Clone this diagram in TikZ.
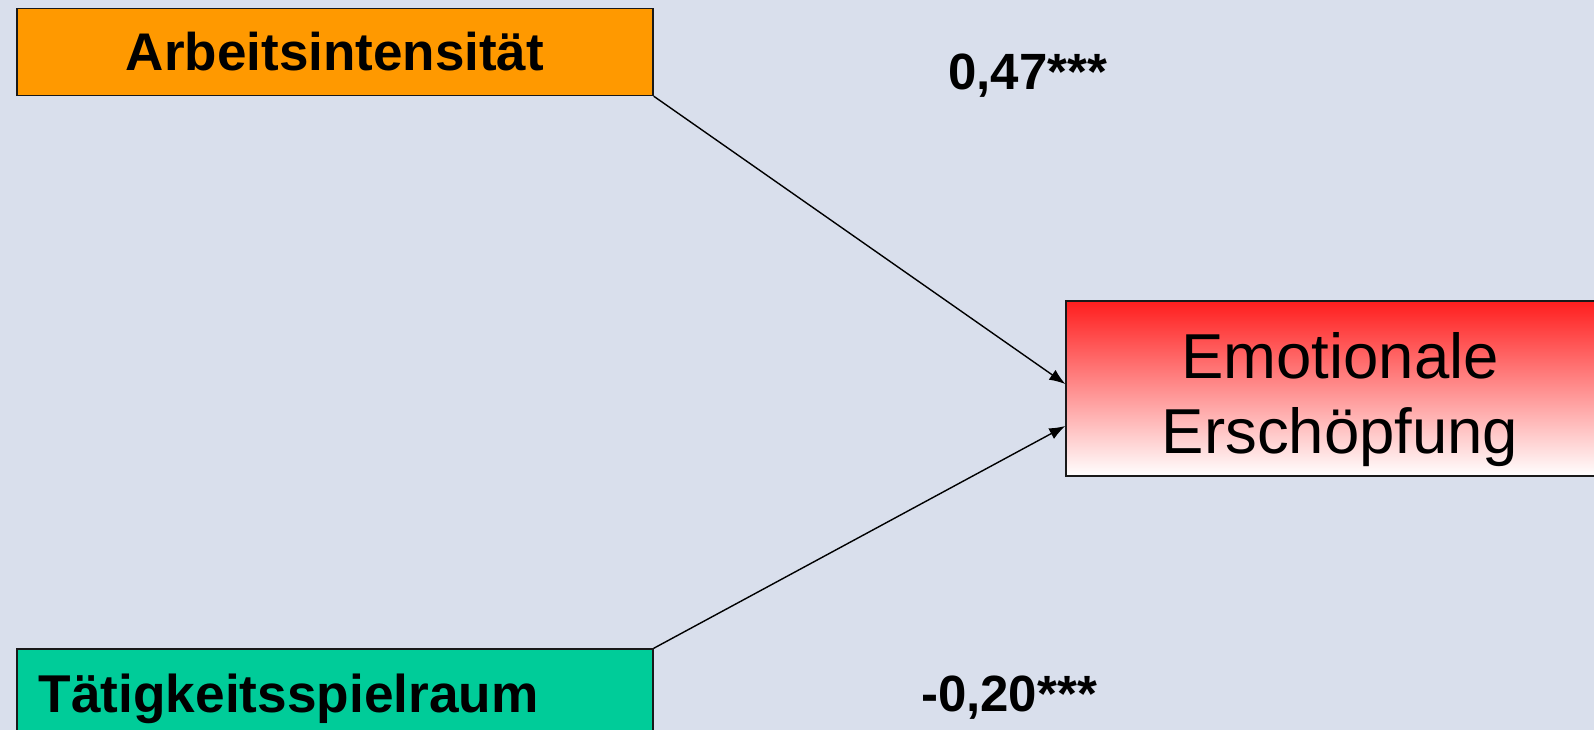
\documentclass[tikz,border=0pt]{standalone}
\usepackage{fontspec}
\setmainfont{Liberation Sans}
\usetikzlibrary{arrows.meta}
\definecolor{bgblue}{RGB}{217,223,236}
\definecolor{boxorange}{RGB}{255,153,0}
\definecolor{boxgreen}{RGB}{0,204,153}
\definecolor{boxred}{RGB}{255,30,30}
\definecolor{edge}{RGB}{25,25,25}
\tikzset{
  varbox/.style={draw=edge, line width=1.4pt, rectangle, inner sep=0pt},
  coef/.style={font=\fontsize{51}{60}\selectfont\bfseries, anchor=base, inner sep=0pt},
  bigtext/.style={font=\fontsize{63.5}{75}\selectfont, anchor=base, inner sep=0pt},
  path/.style={draw=black, line width=1.4pt, -{Latex[length=16pt,width=12pt]}}
}
\begin{document}
\begin{tikzpicture}[x=1pt,y=-1pt]
  % canvas
  \fill[bgblue] (0,0) rectangle (1594,730);
  \useasboundingbox (0,0) rectangle (1594,730);
  \begin{scope}
    \clip (0,0) rectangle (1594,730);
    % predictors
    \node[varbox, fill=boxorange, minimum width=636pt, minimum height=87pt,
          font=\fontsize{53}{60}\selectfont\bfseries] (ai) at (335,52) {Arbeitsintensität};
    \node[varbox, fill=boxgreen, minimum width=636pt, minimum height=130pt] (tsp) at (335,714) {};
    \node[font=\fontsize{53.2}{60}\selectfont\bfseries, anchor=base west, inner sep=0pt]
          (tsplabel) at (38.6,712) {Tätigkeitsspielraum};
    % outcome
    \node[varbox, top color=boxred, bottom color=white, minimum width=548pt, minimum height=175pt]
          (ee) at (1340,388.5) {};
    \node[bigtext] (ee1) at (1340,378.5) {Emotionale};
    \node[bigtext] (ee2) at (1340,453.5) {Erschöpfung};
    % paths
    \coordinate (eein1) at ([yshift=4.5pt]ee.west);
    \coordinate (eein2) at ([yshift=-37.5pt]ee.west);
    \draw[path] (ai.south east) -- (eein1);
    \draw[path] (tsp.north east) -- (eein2);
    % coefficients
    \node[coef] (c1) at (1027.5,89.5) {0,47***};
    \node[coef] (c2) at (1009,711.6) {-0,20***};
  \end{scope}
\end{tikzpicture}
\end{document}
